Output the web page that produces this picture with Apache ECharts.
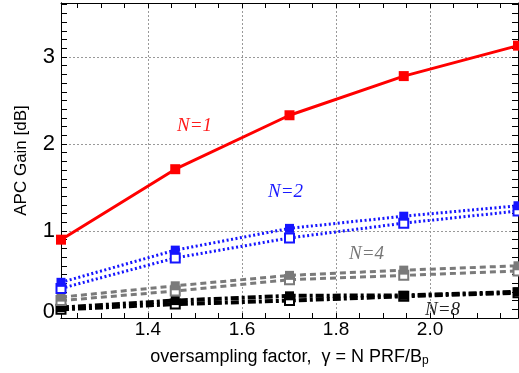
<!DOCTYPE html>
<html><head><meta charset="utf-8">
<script src="https://cdn.jsdelivr.net/npm/echarts@6/dist/echarts.min.js"></script>
<style>html,body{margin:0;padding:0;background:#fff}#c{width:519px;height:373px}</style>
</head><body><div id="c"></div>
<script>
const xValues = [1.215, 1.458, 1.701, 1.944, 2.187];
const n1 = [0.90, 1.71, 2.33, 2.78, 3.13];
const n2Filled = [0.41, 0.78, 1.03, 1.17, 1.29];
const n2Open = [0.34, 0.69, 0.92, 1.09, 1.23];
const n4Filled = [0.24, 0.37, 0.49, 0.55, 0.60];
const n4Open = [0.20, 0.31, 0.44, 0.49, 0.54];
const n8Filled = [0.12, 0.20, 0.255, 0.26, 0.30];
const n8Open = [0.10, 0.16, 0.20, 0.25, 0.29];
const xTickLabels = [1.4, 1.6, 1.8, 2.0];
const yTickLabels = [0, 1, 2, 3];
const xMin = 1.215, xMax = 2.187, yMin = 0, yMax = 3.62;

const xMinor = []; for (let i = 25; i <= 43; i++) xMinor.push(+(i * 0.05).toFixed(2));
const yMinor = []; for (let i = 1; i <= 36; i++) yMinor.push(+(i * 0.1).toFixed(1));

const pair = (ys) => xValues.map((x, i) => [x, ys[i]]);
const FONT = 'Liberation Sans';

function axisX(extra) {
  return Object.assign({ type: 'value', min: xMin, max: xMax, axisLine: { show: true, onZero: false, lineStyle: { color: '#000', width: 1 } },
    axisLabel: { show: false }, axisTick: { show: false }, splitLine: { show: false } }, extra);
}
function axisY(extra) {
  return Object.assign({ type: 'value', min: yMin, max: yMax, axisLine: { show: true, onZero: false, lineStyle: { color: '#000', width: 1 } },
    axisLabel: { show: false }, axisTick: { show: false }, splitLine: { show: false } }, extra);
}
const minorTickX = { show: true, inside: true, length: 5, customValues: xMinor, lineStyle: { color: '#000', width: 1 } };
const minorTickY = { show: true, inside: true, length: 6, customValues: yMinor, lineStyle: { color: '#000', width: 1 } };
const blankLabelX = { show: true, customValues: xMinor, formatter: () => '' };
const blankLabelY = { show: true, customValues: yMinor, formatter: () => '' };

const chart = echarts.init(document.getElementById('c'), null, { renderer: 'canvas' });
const option = {
  backgroundColor: '#fff',
  animation: false,
  grid: { left: 61, right: 1, top: 3, bottom: 55, containLabel: false, outerBoundsMode: 'none' },
  xAxis: [
    axisX({ position: 'bottom',
      name: 'oversampling factor,  γ = N PRF/B{s|p}', nameLocation: 'middle', nameGap: 29,
      nameTextStyle: { fontFamily: FONT, fontSize: 18, color: '#000', rich: { s: { fontFamily: FONT, fontSize: 12, padding: [8, 0, 0, 0] } } },
      axisLabel: { show: true, customValues: xTickLabels, margin: 2, fontFamily: FONT, fontSize: 19, color: '#000', formatter: v => v.toFixed(1) },
      axisTick: { show: true, customValues: xTickLabels, length: 0 },
      splitLine: { show: true, lineStyle: { color: '#999', type: [2, 2], width: 1 } } }),
    axisX({ position: 'bottom', axisTick: minorTickX, axisLabel: blankLabelX }),
    axisX({ position: 'top', axisTick: minorTickX, axisLabel: blankLabelX })
  ],
  yAxis: [
    axisY({ position: 'left',
      name: 'APC Gain [dB]', nameLocation: 'middle', nameGap: 31, nameRotate: 90,
      nameTextStyle: { fontFamily: FONT, fontSize: 17, color: '#000' },
      axisLabel: { show: true, customValues: yTickLabels, margin: 6, fontFamily: FONT, fontSize: 22, color: '#000',
        formatter: v => v === 0 ? '{z|0}' : String(v),
        rich: { z: { fontFamily: FONT, fontSize: 22, color: '#000', padding: [0, 0, 13, 0] } } },
      axisTick: { show: true, customValues: yTickLabels, length: 0 },
      splitLine: { show: true, lineStyle: { color: '#999', type: [2, 2], width: 1 } } }),
    axisY({ position: 'left', axisTick: minorTickY, axisLabel: blankLabelY }),
    axisY({ position: 'right', axisTick: minorTickY, axisLabel: blankLabelY })
  ],
  series: [
    { name: 'N=8 open', type: 'line', data: pair(n8Open), symbol: 'emptyRect', symbolSize: 9,
      lineStyle: { color: '#000', width: 4, type: [8, 3, 3, 3] }, itemStyle: { color: '#000', borderWidth: 2.5 }, z: 3 },
    { name: 'N=8', type: 'line', data: pair(n8Filled), symbol: 'rect', symbolSize: 9,
      lineStyle: { color: '#000', width: 4, type: [8, 3, 3, 3] }, itemStyle: { color: '#000' }, z: 3 },
    { name: 'N=4 open', type: 'line', data: pair(n4Open), symbol: 'emptyRect', symbolSize: 9,
      lineStyle: { color: '#7a7a7a', width: 3, type: [6, 4] }, itemStyle: { color: '#7a7a7a', borderWidth: 2.5 }, z: 4 },
    { name: 'N=4', type: 'line', data: pair(n4Filled), symbol: 'rect', symbolSize: 9,
      lineStyle: { color: '#7a7a7a', width: 3, type: [6, 4] }, itemStyle: { color: '#7a7a7a' }, z: 4 },
    { name: 'N=2 open', type: 'line', data: pair(n2Open), symbol: 'emptyRect', symbolSize: 9,
      lineStyle: { color: '#1515ff', width: 3, type: [2, 2.5] }, itemStyle: { color: '#1515ff', borderWidth: 2.5 }, z: 5 },
    { name: 'N=2', type: 'line', data: pair(n2Filled), symbol: 'rect', symbolSize: 9,
      lineStyle: { color: '#1515ff', width: 3, type: [2, 2.5] }, itemStyle: { color: '#1515ff' }, z: 5 },
    { name: 'N=1', type: 'line', data: pair(n1), symbol: 'rect', symbolSize: 10,
      lineStyle: { color: '#ff0000', width: 3 }, itemStyle: { color: '#ff0000' }, z: 6 }
  ],
  graphic: [
    { type: 'text', left: 177, top: 116, style: { text: 'N=1', fontFamily: 'Liberation Serif', fontStyle: 'italic', fontSize: 19, fill: '#ff1a1a' } },
    { type: 'text', left: 268, top: 182, style: { text: 'N=2', fontFamily: 'Liberation Serif', fontStyle: 'italic', fontSize: 19, fill: '#1a1aff' } },
    { type: 'text', left: 349, top: 244, style: { text: 'N=4', fontFamily: 'Liberation Serif', fontStyle: 'italic', fontSize: 19, fill: '#777' } },
    { type: 'text', left: 425, top: 300, style: { text: 'N=8', fontFamily: 'Liberation Serif', fontStyle: 'italic', fontSize: 19, fill: '#222' } }
  ]
};
chart.setOption(option);
</script></body></html>
